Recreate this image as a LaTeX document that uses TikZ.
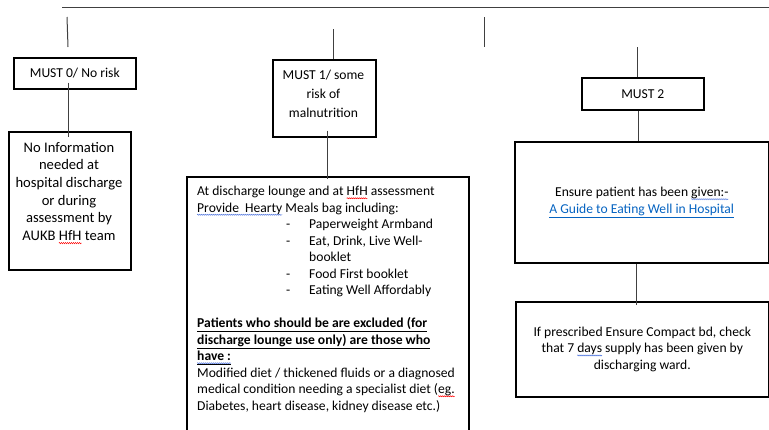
\documentclass[tikz,border=0pt]{standalone}
\usepackage{fontspec}
\setmainfont{Carlito}
\usetikzlibrary{decorations.pathmorphing}
\definecolor{linkblue}{RGB}{5,99,193}
\definecolor{waveblue}{RGB}{70,110,220}
\newsavebox\wavebox
\newcommand\wavy[2]{\sbox\wavebox{#2}\raisebox{-2.6pt}{\tikz[overlay]\draw[#1,line width=0.45pt,decorate,decoration={snake,amplitude=0.6pt,segment length=2pt}] (0pt,0pt)--(\wd\wavebox,0pt);}\usebox\wavebox}
\newcommand\rwave[1]{\wavy{red}{#1}}
\newcommand\bwave[1]{\wavy{waveblue}{#1}}
\begin{document}
\begin{tikzpicture}[x=1pt,y=-1pt,
  box/.style={draw=black,line width=1.6pt,inner sep=0pt,anchor=north west},
  link/.style={draw=black!75,line width=1pt},
  txt/.style={inner sep=0pt,font=\fontsize{13.6}{16.5}\selectfont},
  ctxt/.style={txt,align=center}]
\useasboundingbox (0,0) rectangle (769,429);
\clip (0,0) rectangle (769,429);
% boxes
\node[box,minimum width=122pt,minimum height=31pt] (m0) at (13,57) {};
\node[box,minimum width=122pt,minimum height=138pt] (ni) at (8,131) {};
\node[box,minimum width=103pt,minimum height=77pt] (m1) at (272,59) {};
\node[box,minimum width=282pt,minimum height=270pt] (mid) at (186,176) {};
\node[box,minimum width=122pt,minimum height=32pt] (m2) at (581,77) {};
\node[box,minimum width=254pt,minimum height=121pt] (en) at (514,141) {};
\node[box,minimum width=253pt,minimum height=95pt] (pr) at (515,301) {};
% texts
\node[ctxt] (m0t) at (m0.center) {MUST 0/ No risk};
\node[ctxt,font=\fontsize{14.6}{17.7}\selectfont] (nit) at (69,192.5) {No Information\\needed at\\hospital discharge\\or during\\assessment by\\AUKB \rwave{HfH} team};
\node[ctxt,font=\fontsize{13.6}{18.8}\selectfont] (m1t) at (323.5,94) {MUST 1/ some\\risk of\\malnutrition};
\node[ctxt] (m2t) at (m2.center) {MUST 2};
\node[ctxt] (ent) at (en.center) {Ensure patient has been \bwave{given:-}\\\textcolor{linkblue}{\underline{A Guide to Eating Well in Hospital}}};
\node[ctxt] (prt) at (pr.center) {If prescribed Ensure Compact bd, check\\that 7 \bwave{days} supply has been given by\\discharging ward.};
\node[txt,align=left,anchor=north west] (midt) at (197,186) {At discharge lounge and at \rwave{HfH} assessment\\
\bwave{Provide\ \ Hearty} Meals bag including:\\
\hspace*{89pt}\makebox[23pt][l]{-}Paperweight Armband\\
\hspace*{89pt}\makebox[23pt][l]{-}Eat, Drink, Live Well-\\
\hspace*{112pt}booklet\\
\hspace*{89pt}\makebox[23pt][l]{-}Food First booklet\\
\hspace*{89pt}\makebox[23pt][l]{-}Eating Well Affordably\\
\mbox{}\\
\textbf{\underline{Patients who should be are excluded (for}}\\
\textbf{\underline{discharge lounge use only) are those who}}\\
\textbf{\underline{\bwave{have :}}}\\
Modified diet / thickened fluids or a diagnosed\\
medical condition needing a specialist diet (\rwave{eg.}\\
Diabetes, heart disease, kidney disease etc.)};
% connectors
\coordinate (topL) at (62,7);
\coordinate (topR) at (769,7);
\coordinate (a1) at (67,17);
\coordinate (a2) at (68,47);
\coordinate (b1) at (484,17);
\coordinate (b2) at (484,47);
\coordinate (c1) at (333,29);
\coordinate (c2) at (637.5,47);
\draw[link] (topL) -- (topR);
\draw[link] (a1) -- (a2);
\draw[link] (b1) -- (b2);
\draw[link] (c1) -- (c1 |- m1.north);
\draw[link] (c2) -- (c2 |- m2.north);
\draw[link] ([yshift=7pt]m0.south -| 68,0) -- ([yshift=-6pt]ni.north -| 68,0);
\draw[link] ([yshift=7pt]m1.south -| 327,0) -- ([yshift=-3pt]mid.north -| 327,0);
\draw[link] (m2.south -| 638,0) -- (en.north -| 638,0);
\draw[link] (en.south -| 636,0) -- ([yshift=-4pt]pr.north -| 636,0);
\end{tikzpicture}
\end{document}
